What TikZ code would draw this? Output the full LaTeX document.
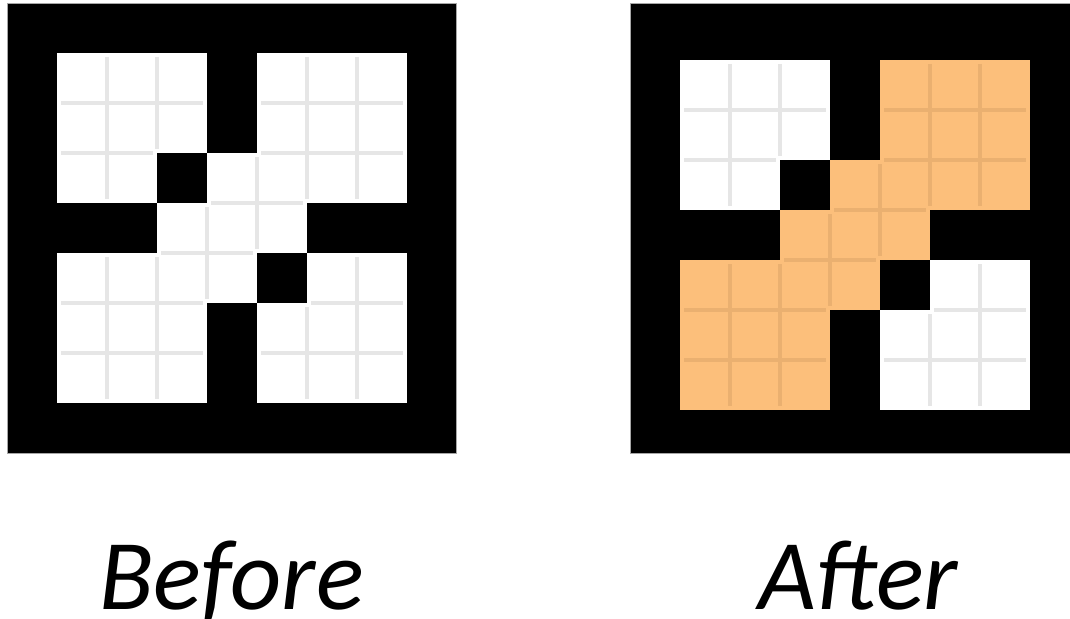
\documentclass[tikz,border=0pt]{standalone}
\usepackage{fontspec}
\setmainfont{Carlito}
\usepackage{xcolor}
\usepackage{tikz}

\definecolor{fillorange}{RGB}{252,191,123}
\definecolor{lineorange}{RGB}{234,176,112}
\definecolor{linegray}{RGB}{230,230,230}

\begin{document}
\begin{tikzpicture}[x=1pt, y=-1pt,
    frame/.style={fill=black, draw=black!35, line width=0.8pt},
    free/.style={fill=white},
    hit/.style={fill=fillorange},
    wall/.style={fill=black},
    seam/.style={draw=linegray, line width=3.5pt, shorten <=4pt, shorten >=4pt},
    seamhit/.style={seam, draw=lineorange},
    caption/.style={font=\fontsize{100}{104}\selectfont\itshape, inner sep=0pt, text depth=0pt, anchor=base}]

  \useasboundingbox (0,0) rectangle (1070,618);

  % --- Left panel: grid before filling ---
  \draw[frame] (7,3) rectangle (456,453);
  \begin{scope}[shift={(7pt,-3pt)}, x=50pt, y=-50pt]
    \fill[free] (1,1) rectangle (4,4);
    \fill[free] (5,1) rectangle (8,4);
    \fill[free] (1,5) rectangle (4,8);
    \fill[free] (5,5) rectangle (8,8);
    \fill[free] (3,4) rectangle (6,5);
    \fill[free] (4,3) rectangle (5,6);
    \fill[wall] (3,3) rectangle (4,4);
    \fill[wall] (5,5) rectangle (6,6);
    \foreach \xa/\ya/\xb/\yb in {2/1/2/4, 2/5/2/8, 3/1/3/3, 3/5/3/8, 4/4/4/6,
        5/3/5/5, 6/1/6/4, 6/6/6/8, 7/1/7/4, 7/5/7/8,
        1/2/4/2, 5/2/8/2, 1/3/3/3, 5/3/8/3, 4/4/6/4,
        3/5/5/5, 1/6/4/6, 6/6/8/6, 1/7/4/7, 5/7/8/7}
      \draw[seam] (\xa,\ya) -- (\xb,\yb);
  \end{scope}

  % --- Right panel: grid after filling ---
  \draw[frame] (630,3) rectangle (1080,453);
  \begin{scope}[shift={(630pt,-10pt)}, x=50pt, y=-50pt]
    \fill[free] (1,1) rectangle (4,4);
    \fill[free] (5,5) rectangle (8,8);
    \fill[hit] (5,1) rectangle (8,4);
    \fill[hit] (1,5) rectangle (4,8);
    \fill[hit] (3,4) rectangle (6,5);
    \fill[hit] (4,3) rectangle (5,6);
    \fill[wall] (3,3) rectangle (4,4);
    \fill[wall] (5,5) rectangle (6,6);
    \foreach \xa/\ya/\xb/\yb in {2/1/2/4, 3/1/3/3, 6/6/6/8, 7/5/7/8,
        1/2/4/2, 1/3/3/3, 6/6/8/6, 5/7/8/7}
      \draw[seam] (\xa,\ya) -- (\xb,\yb);
    \foreach \xa/\ya/\xb/\yb in {2/5/2/8, 3/5/3/8, 4/4/4/6, 5/3/5/5,
        6/1/6/4, 7/1/7/4, 5/2/8/2, 5/3/8/3, 4/4/6/4,
        3/5/5/5, 1/6/4/6, 1/7/4/7}
      \draw[seamhit] (\xa,\ya) -- (\xb,\yb);
  \end{scope}

  % --- Captions ---
  \node[caption] (before) at (231.5,609) {Before};
  \node[caption] (after) at (858,609) {After};
\end{tikzpicture}
\end{document}
